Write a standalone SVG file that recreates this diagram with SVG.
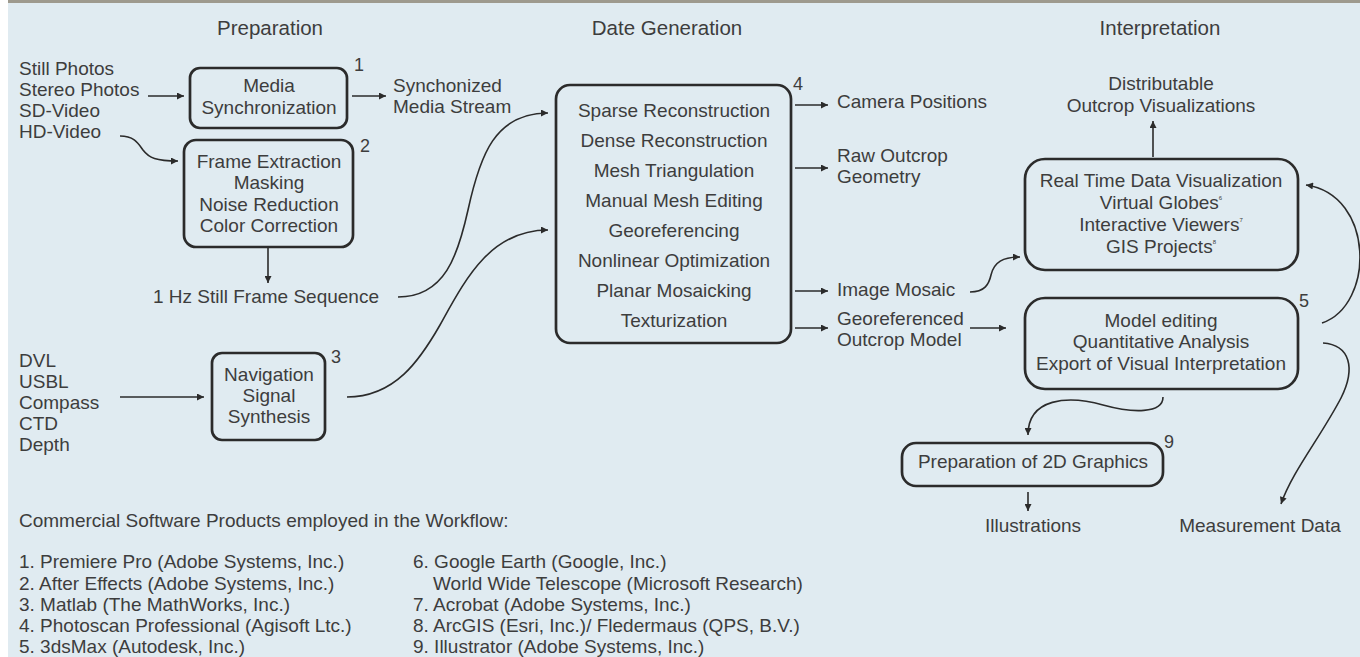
<svg xmlns="http://www.w3.org/2000/svg" width="1360" height="657" viewBox="0 0 1360 657">
<defs>
<style>
text{font-family:"Liberation Sans",Arial,sans-serif;font-size:19px;fill:#3d3d3d}
.t{font-size:20.5px}
.m{text-anchor:middle}
.n{font-size:18px}
.sup{font-size:6px}
.box{fill:none;stroke:#2b2b2b;stroke-width:2.7}
.c{fill:none;stroke:#2b2b2b;stroke-width:1.6;marker-end:url(#ah)}
</style>
<marker id="ah" viewBox="0 0 10 10" refX="10" refY="5" markerWidth="9" markerHeight="7" markerUnits="userSpaceOnUse" orient="auto"><path d="M0,0 L10,5 L0,10 z" fill="#2b2b2b"/></marker>
</defs>
<rect x="0" y="0" width="1360" height="657" fill="#e0ebf1"/>
<rect x="0" y="0" width="8" height="657" fill="#ffffff"/>
<rect x="8" y="0" width="1352" height="3" fill="#9e9a8e"/>

<g id="titles">
<text class="t m" x="270" y="35">Preparation</text>
<text class="t m" x="667" y="35">Date Generation</text>
<text class="t m" x="1160" y="35">Interpretation</text>
</g>

<g id="inputs-media">
<text x="19" y="75">Still Photos</text>
<text x="19" y="96">Stereo Photos</text>
<text x="19" y="117">SD-Video</text>
<text x="19" y="138">HD-Video</text>
</g>

<g id="node1">
<rect class="box" x="190" y="68" width="157" height="60" rx="10"/>
<text class="m" x="269" y="92">Media</text>
<text class="m" x="269" y="114">Synchronization</text>
<text class="n" x="354" y="71">1</text>
</g>

<g id="sync-stream">
<text x="393" y="92">Synchonized</text>
<text x="393" y="113">Media Stream</text>
</g>

<g id="node2">
<rect class="box" x="184" y="140" width="169" height="107" rx="12"/>
<text class="m" x="269" y="168">Frame Extraction</text>
<text class="m" x="269" y="189">Masking</text>
<text class="m" x="269" y="211">Noise Reduction</text>
<text class="m" x="269" y="232">Color Correction</text>
<text class="n" x="360" y="152">2</text>
</g>

<g id="frame-seq">
<text class="m" x="266" y="303">1 Hz Still Frame Sequence</text>
</g>

<g id="inputs-nav">
<text x="19" y="367">DVL</text>
<text x="19" y="388">USBL</text>
<text x="19" y="409">Compass</text>
<text x="19" y="430">CTD</text>
<text x="19" y="451">Depth</text>
</g>

<g id="node3">
<rect class="box" x="212" y="353" width="113" height="87" rx="10"/>
<text class="m" x="269" y="381">Navigation</text>
<text class="m" x="269" y="402">Signal</text>
<text class="m" x="269" y="423">Synthesis</text>
<text class="n" x="331" y="363">3</text>
</g>

<g id="node4">
<rect class="box" x="556" y="85" width="235" height="258" rx="14"/>
<text class="m" x="674" y="117">Sparse Reconstruction</text>
<text class="m" x="674" y="147">Dense Reconstruction</text>
<text class="m" x="674" y="177">Mesh Triangulation</text>
<text class="m" x="674" y="207">Manual Mesh Editing</text>
<text class="m" x="674" y="237">Georeferencing</text>
<text class="m" x="674" y="267">Nonlinear Optimization</text>
<text class="m" x="674" y="297">Planar Mosaicking</text>
<text class="m" x="674" y="327">Texturization</text>
<text class="n" x="793" y="90">4</text>
</g>

<g id="outputs4">
<text x="837" y="108">Camera Positions</text>
<text x="837" y="162">Raw Outcrop</text>
<text x="837" y="183">Geometry</text>
<text x="837" y="296">Image Mosaic</text>
<text x="837" y="325">Georeferenced</text>
<text x="837" y="346">Outcrop Model</text>
</g>

<g id="distributable">
<text class="m" x="1161" y="90">Distributable</text>
<text class="m" x="1161" y="112">Outcrop Visualizations</text>
</g>

<g id="node-rt">
<rect class="box" x="1025" y="159" width="273" height="111" rx="20"/>
<text class="m" x="1161" y="187">Real Time Data Visualization</text>
<text class="m" x="1161" y="209">Virtual Globes<tspan class="sup" dy="-9">6</tspan></text>
<text class="m" x="1161" y="231">Interactive Viewers<tspan class="sup" dy="-9">7</tspan></text>
<text class="m" x="1161" y="253">GIS Projects<tspan class="sup" dy="-9">8</tspan></text>
</g>

<g id="node5">
<rect class="box" x="1025" y="298" width="273" height="91" rx="20"/>
<text class="m" x="1161" y="327">Model editing</text>
<text class="m" x="1161" y="348">Quantitative Analysis</text>
<text class="m" x="1161" y="370">Export of Visual Interpretation</text>
<text class="n" x="1299" y="307">5</text>
</g>

<g id="node9">
<rect class="box" x="902" y="443" width="261" height="43" rx="14"/>
<text class="m" x="1033" y="468">Preparation of 2D Graphics</text>
<text class="n" x="1164" y="448">9</text>
</g>

<g id="final-outputs">
<text class="m" x="1033" y="532">Illustrations</text>
<text class="m" x="1260" y="532">Measurement Data</text>
</g>

<g id="legend">
<text x="19" y="527">Commercial Software Products employed in the Workflow:</text>
<text x="19" y="568">1. Premiere Pro (Adobe Systems, Inc.)</text>
<text x="19" y="590">2. After Effects (Adobe Systems, Inc.)</text>
<text x="19" y="611">3. Matlab (The MathWorks, Inc.)</text>
<text x="19" y="632">4. Photoscan Professional (Agisoft Ltc.)</text>
<text x="19" y="653">5. 3dsMax (Autodesk, Inc.)</text>
<text x="413" y="568">6. Google Earth (Google, Inc.)</text>
<text x="433" y="590">World Wide Telescope (Microsoft Research)</text>
<text x="413" y="611">7. Acrobat (Adobe Systems, Inc.)</text>
<text x="413" y="632">8. ArcGIS (Esri, Inc.)/ Fledermaus (QPS, B.V.)</text>
<text x="413" y="653">9. Illustrator (Adobe Systems, Inc.)</text>
</g>

<g id="connectors">
<path class="c" d="M148,96 L184,96"/>
<path class="c" d="M352,96 L386,96"/>
<path class="c" d="M120,136 C134,136 138,143 143,150 C149,158 156,161 178,161"/>
<path class="c" d="M268,248 L268,283"/>
<path class="c" d="M398,297 C445,297 458,255 468,210 C480,155 495,113 548,113"/>
<path class="c" d="M120,397 L204,397"/>
<path class="c" d="M347,397 C395,397 420,360 440,325 C465,280 490,230 548,230"/>
<path class="c" d="M795,105 L828,105"/>
<path class="c" d="M795,168 L828,168"/>
<path class="c" d="M795,291 L828,291"/>
<path class="c" d="M795,328 L828,328"/>
<path class="c" d="M970,292 C985,292 989,284 991,275 C994,262 1003,257 1020,257"/>
<path class="c" d="M970,328 L1006,328"/>
<path class="c" d="M1153,157 L1153,121"/>
<path class="c" d="M1322,323 C1375,305 1375,195 1306,185"/>
<path class="c" d="M1323,343 C1350,345 1356,368 1341,398 C1320,438 1292,472 1281,504"/>
<path class="c" d="M1163,397 C1163,414 1132,413 1103,405 C1068,395 1028,398 1028,435"/>
<path class="c" d="M1028,492 L1028,511"/>
</g>
</svg>
